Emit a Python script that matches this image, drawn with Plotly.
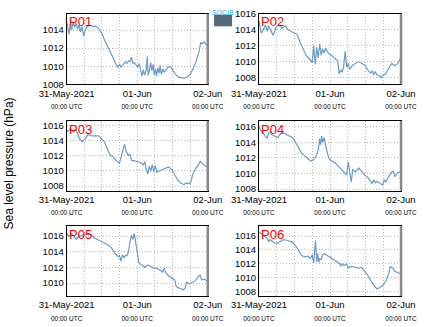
import plotly.graph_objects as go
import pandas as pd

names = ["P01", "P02", "P03", "P04", "P05", "P06"]

p01_h = [0, 0.5, 0.8, 1.2, 1.7, 2.2, 2.7, 3.2, 3.7, 4.2, 4.7, 5.2, 5.8, 6.3, 7, 8, 9, 10, 11, 12, 13, 14, 15, 16, 16.7, 17.3, 18, 18.5, 19.3, 20, 20.5, 21, 21.5, 22, 22.5, 23, 23.7, 24.2, 24.7, 25.2, 25.6, 26.1, 26.5, 27, 27.4, 27.7, 28.2, 28.6, 29, 29.4, 29.8, 30.2, 30.6, 31, 31.4, 31.8, 32.2, 32.7, 33.2, 33.7, 34.5, 35.5, 36.3, 37, 38, 39, 40, 41, 42, 43, 44, 45, 45.6, 46.2, 46.8, 47.4, 48]
p01_v = [1014.8, 1014.2, 1013.5, 1014.6, 1014.0, 1014.9, 1014.3, 1014.8, 1014.1, 1014.6, 1013.8, 1014.4, 1013.3, 1014.0, 1014.4, 1014.5, 1014.4, 1014.4, 1014.1, 1013.6, 1012.8, 1012.1, 1011.5, 1010.8, 1010.2, 1009.9, 1010.2, 1009.9, 1010.2, 1010.5, 1010.3, 1010.6, 1010.5, 1011.0, 1010.3, 1010.4, 1010.1, 1009.9, 1010.3, 1009.4, 1008.9, 1009.6, 1009.0, 1009.5, 1011.1, 1009.0, 1009.6, 1010.4, 1009.5, 1010.2, 1009.0, 1009.7, 1008.9, 1009.8, 1009.2, 1010.1, 1009.1, 1009.7, 1009.3, 1009.6, 1009.9, 1009.9, 1009.5, 1009.1, 1008.8, 1008.7, 1008.7, 1008.8, 1009.1, 1009.7, 1010.5, 1011.6, 1012.6, 1012.5, 1012.7, 1012.4, 1012.3]

p02_x = [128, 135, 140, 150, 155, 160, 175, 185, 195, 205, 215, 225, 240, 255, 265, 275, 285, 300, 305, 310, 315, 320, 325, 330, 335, 340, 345, 350, 360, 370, 380, 390, 395, 400, 405, 410, 415, 420, 425, 430, 440, 450, 460, 470, 480, 490, 500, 505, 510, 515, 520, 530, 535, 540, 550, 560, 570, 580, 590, 600]
p02_v = [1015.1, 1013.6, 1013.8, 1014.6, 1013.8, 1014.5, 1013.3, 1014.3, 1014.6, 1014.2, 1014.5, 1014.0, 1013.7, 1013.4, 1012.4, 1011.6, 1010.8, 1010.2, 1009.9, 1012.0, 1009.7, 1011.8, 1010.5, 1012.2, 1010.8, 1011.6, 1011.1, 1011.7, 1011.0, 1010.8, 1010.5, 1010.1, 1008.5, 1009.0, 1008.7, 1009.5, 1011.3, 1009.3, 1009.8, 1009.1, 1009.6, 1009.8, 1010.0, 1009.8, 1009.6, 1009.0, 1008.6, 1008.9, 1008.4, 1008.8, 1008.4, 1008.2, 1008.0, 1008.3, 1008.5, 1009.2, 1009.8, 1009.5, 1009.8, 1010.5]

p03_x = [128, 140, 150, 160, 170, 180, 190, 200, 210, 220, 235, 245, 255, 265, 275, 285, 295, 305, 310, 315, 322, 328, 335, 340, 345, 355, 365, 375, 385, 390, 395, 400, 405, 410, 415, 420, 425, 430, 440, 450, 460, 470, 480, 490, 500, 510, 520, 530, 540, 545, 550, 560, 570, 575, 580, 590, 600]
p03_v = [1015.1, 1015.5, 1015.1, 1015.4, 1014.3, 1013.8, 1014.2, 1014.8, 1014.6, 1014.6, 1014.6, 1014.2, 1013.8, 1012.8, 1012.0, 1011.8, 1011.3, 1011.0, 1011.8, 1012.5, 1013.5, 1012.5, 1012.0, 1012.2, 1011.4, 1011.3, 1011.2, 1011.1, 1010.8, 1011.2, 1010.2, 1009.6, 1010.6, 1010.0, 1010.8, 1009.9, 1010.7, 1009.8, 1010.0, 1010.2, 1010.4, 1010.5, 1010.2, 1009.5, 1008.8, 1008.4, 1008.2, 1008.4, 1008.3, 1008.6, 1009.5, 1010.3, 1010.8, 1011.3, 1011.0, 1010.7, 1010.5]

p04_x = [128, 135, 145, 155, 160, 165, 170, 180, 190, 200, 210, 220, 230, 240, 250, 260, 270, 280, 290, 300, 310, 320, 325, 330, 333, 337, 340, 345, 350, 355, 360, 370, 380, 390, 400, 410, 420, 425, 430, 435, 440, 450, 460, 470, 480, 490, 500, 505, 510, 515, 520, 530, 540, 545, 550, 560, 570, 575, 580, 590, 600]
p04_v = [1016.0, 1015.5, 1015.0, 1014.5, 1015.2, 1015.3, 1015.0, 1014.8, 1014.6, 1015.1, 1015.2, 1015.0, 1014.8, 1014.6, 1014.0, 1013.2, 1012.6, 1012.3, 1012.0, 1011.6, 1011.8, 1012.4, 1013.0, 1014.5, 1013.7, 1014.8, 1014.0, 1014.6, 1013.5, 1012.5, 1012.0, 1011.6, 1011.4, 1011.0, 1010.6, 1010.2, 1009.8, 1011.5, 1009.8, 1008.9, 1010.5, 1010.2, 1010.7, 1010.2, 1009.8, 1009.5, 1009.0, 1008.7, 1009.2, 1008.8, 1009.0, 1008.8, 1008.5, 1009.2, 1008.9, 1009.6, 1010.2, 1010.3, 1009.6, 1010.1, 1010.2]

p05_x = [128, 135, 145, 155, 160, 170, 180, 190, 200, 210, 220, 230, 240, 250, 260, 270, 280, 290, 300, 305, 310, 315, 320, 325, 330, 335, 340, 345, 350, 355, 360, 365, 370, 380, 390, 400, 410, 420, 430, 440, 450, 455, 460, 470, 480, 490, 495, 500, 510, 520, 525, 530, 540, 550, 560, 570, 575, 580, 590, 600]
p05_v = [1016.4, 1016.0, 1016.3, 1015.9, 1015.6, 1016.0, 1016.1, 1016.2, 1016.2, 1016.2, 1015.8, 1015.6, 1015.3, 1015.2, 1015.0, 1014.8, 1014.4, 1013.8, 1013.4, 1013.5, 1012.8, 1013.6, 1013.2, 1013.5, 1013.5, 1014.0, 1015.2, 1016.1, 1015.6, 1016.3, 1015.0, 1013.5, 1012.6, 1012.3, 1012.0, 1012.3, 1012.1, 1011.9, 1011.9, 1011.6, 1011.4, 1011.9, 1011.3, 1010.9, 1010.7, 1010.4, 1009.6, 1009.4, 1009.3, 1009.1, 1009.4, 1010.1, 1009.9, 1010.1, 1010.3, 1010.9, 1011.0, 1010.4, 1010.5, 1010.2]

p06_x = [128, 135, 145, 155, 160, 165, 175, 180, 190, 200, 210, 220, 230, 240, 250, 260, 270, 280, 290, 300, 305, 310, 313, 316, 320, 323, 327, 330, 335, 340, 345, 355, 365, 375, 385, 395, 400, 405, 410, 420, 425, 430, 440, 450, 460, 470, 480, 490, 500, 510, 520, 530, 540, 550, 560, 565, 575, 580, 590, 600]
p06_v = [1016.6, 1016.3, 1016.0, 1015.7, 1015.2, 1015.5, 1015.1, 1015.0, 1015.0, 1015.3, 1015.5, 1015.4, 1015.3, 1015.1, 1014.6, 1014.0, 1013.2, 1013.0, 1013.1, 1012.8, 1013.3, 1012.2, 1013.8, 1015.4, 1012.3, 1013.5, 1012.2, 1012.8, 1012.6, 1013.3, 1013.5, 1013.2, 1013.0, 1012.7, 1012.4, 1012.1, 1011.7, 1012.0, 1011.8, 1012.0, 1011.4, 1011.6, 1011.6, 1011.5, 1011.4, 1011.5, 1011.0, 1010.4, 1009.6, 1009.0, 1008.4, 1008.6, 1008.9, 1009.5, 1010.6, 1011.6, 1011.4, 1010.9, 1010.8, 1010.5]

y_ranges = [[1008.0, 1015.8], [1007.2, 1016.0], [1007.4, 1016.55], [1007.8, 1016.75], [1008.35, 1017.25], [1007.4, 1017.4]]
tick_dates = ["2021-05-31", "2021-06-01", "2021-06-02"]
tick_text = ["31-May-2021", "01-Jun", "02-Jun"]

# read-off positions were in 3x zoom pixels: 128 -> 0 h, 9.85 px per hour
def px_to_hours(xs):
    return [(x - 128) / 9.85 for x in xs]

hours = [p01_h, px_to_hours(p02_x), px_to_hours(p03_x), px_to_hours(p04_x), px_to_hours(p05_x), px_to_hours(p06_x)]
values = [p01_v, p02_v, p03_v, p04_v, p05_v, p06_v]

base = pd.Timestamp("2021-05-31 00:00")
W, H = 435, 327
xdoms = [[43 / W, 200 / W], [257 / W, 415 / W]]
ydoms = [[1 - 81 / H, 1 - 8 / H], [1 - 191 / H, 1 - 119 / H], [1 - 300 / H, 1 - 228 / H]]

fig = go.Figure()
font = "Liberation Sans, Arial, sans-serif"
ticktext = [f"{t}<br><span style='font-size:6.5px'>00:00 UTC</span>" for t in tick_text]
gcol = "#b8b8b8"
gdash = "1px,2px"

for i in range(6):
    r, c = divmod(i, 2)
    ax = "" if i == 0 else str(i + 1)
    t = [base + pd.Timedelta(hours=h) for h in hours[i]]
    fig.add_trace(go.Scatter(x=t, y=values[i], mode="lines",
                             line=dict(color="#6b9bc8", width=1.2),
                             xaxis="x" + ax, yaxis="y" + ax, showlegend=False))
    fig.layout["xaxis" + ax] = dict(
        domain=xdoms[c], anchor="y" + ax, type="date",
        range=[base, base + pd.Timedelta(hours=48)],
        tickvals=tick_dates, ticktext=ticktext, ticks="",
        tickfont=dict(size=9.5, color="black", family=font),
        showgrid=True, gridcolor=gcol, griddash=gdash, gridwidth=1,
        minor=dict(dtick=6 * 3600 * 1000, showgrid=True, gridcolor=gcol, griddash=gdash, gridwidth=1),
        showline=True, linecolor="black", linewidth=1, mirror=True, zeroline=False)
    fig.layout["yaxis" + ax] = dict(
        domain=ydoms[r], anchor="x" + ax, range=y_ranges[i], dtick=2, ticks="",
        tickfont=dict(size=9.5, color="black", family=font),
        showgrid=True, gridcolor=gcol, griddash=gdash, gridwidth=1,
        showline=True, linecolor="black", linewidth=1, mirror=True, zeroline=False)
    fig.add_shape(type="line", xref=f"x{ax} domain", yref=f"y{ax} domain",
                  x0=1, x1=1, y0=0, y1=1, line=dict(color="#888888", width=2.5))
    fig.add_annotation(text=names[i], xref=f"x{ax} domain", yref=f"y{ax} domain",
                       x=0.0, y=1.02, xanchor="left", yanchor="top", showarrow=False,
                       font=dict(size=13, color="red", family=font))

fig.add_annotation(text="Sea level pressure (hPa)", xref="paper", yref="paper",
                   x=0, y=1 - 163 / H, textangle=-90, showarrow=False,
                   xanchor="center", yanchor="middle", xshift=-19,
                   font=dict(size=12, color="black", family=font))
# small logo
fig.add_shape(type="rect", xref="paper", yref="paper", x0=207 / W, x1=227 / W,
              y0=1 - 21 / H, y1=1 - 9 / H, line=dict(width=0), fillcolor="#56697a")
fig.add_annotation(text="SOCIB", xref="paper", yref="paper", x=217 / W, y=1 - 1 / H,
                   xanchor="center", yanchor="top", showarrow=False,
                   font=dict(size=7, color="#33b5d6", family=font))

fig.update_layout(width=W, height=H, margin=dict(l=0, r=0, t=0, b=0),
                  paper_bgcolor="white", plot_bgcolor="white")
fig.write_html("out.html")
